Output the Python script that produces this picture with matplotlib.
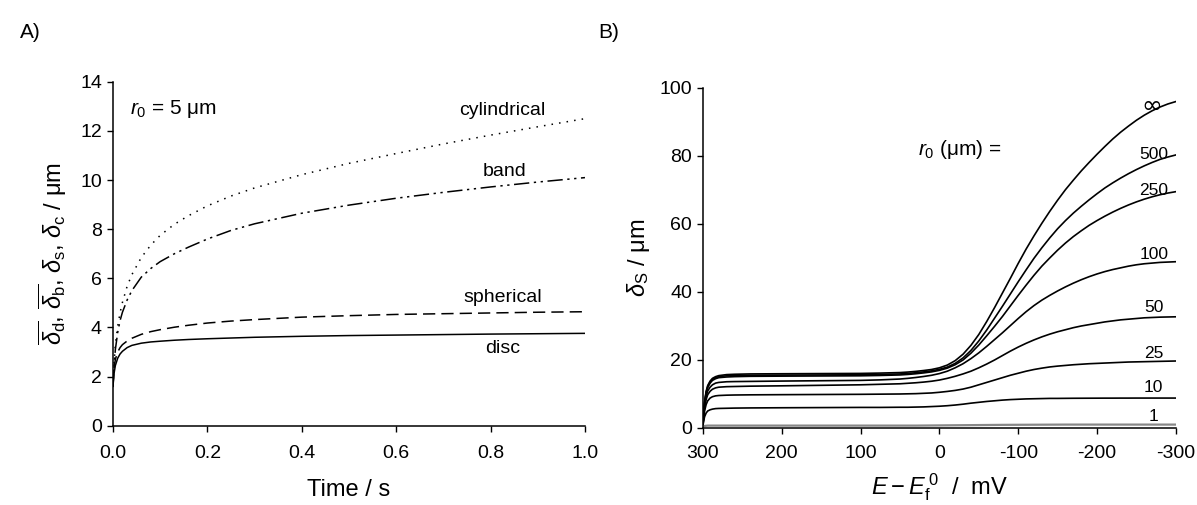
import matplotlib
matplotlib.use("Agg")
import matplotlib.pyplot as plt
from matplotlib.ticker import FuncFormatter

plt.rcParams.update({
    "font.family": ["Liberation Sans", "DejaVu Sans"],
    "mathtext.fontset": "custom",
    "mathtext.rm": "Liberation Sans",
    "mathtext.it": "Liberation Sans:italic",
    "mathtext.bf": "Liberation Sans:bold",
    "axes.unicode_minus": False,
    "axes.spines.top": False,
    "axes.spines.right": False,
    "axes.linewidth": 1.1,
    "xtick.direction": "out",
    "ytick.direction": "out",
    "xtick.major.size": 4,
    "ytick.major.size": 4,
    "xtick.major.width": 1.0,
    "ytick.major.width": 1.0,
    "xtick.labelsize": 14,
    "ytick.labelsize": 14,
})

# ---------------------------------------------------------------------------
# Panel A data: diffusion layer thickness vs time (r0 = 5 um)
# ---------------------------------------------------------------------------
time_s = [0, 0.002, 0.005, 0.01, 0.015, 0.02, 0.03, 0.04, 0.06, 0.08, 0.1,
          0.13, 0.16, 0.2, 0.25, 0.3, 0.4, 0.5, 0.6, 0.7, 0.8, 0.9, 1.0]
disc = [1.6, 2.1, 2.45, 2.75, 2.92, 3.03, 3.18, 3.27, 3.36, 3.41, 3.44,
        3.48, 3.51, 3.54, 3.57, 3.60, 3.64, 3.67, 3.69, 3.71, 3.73, 3.745, 3.76]
spherical = [1.6, 2.3, 2.7, 3.0, 3.18, 3.3, 3.45, 3.56, 3.72, 3.83, 3.91,
             4.01, 4.09, 4.18, 4.26, 4.32, 4.42, 4.48, 4.53, 4.56, 4.59, 4.62, 4.64]
cylindrical = [1.6, 2.5, 3.3, 4.05, 4.6, 5.02, 5.68, 6.15, 6.85, 7.35, 7.75,
               8.2, 8.55, 8.95, 9.35, 9.68, 10.22, 10.68, 11.08, 11.47, 11.83, 12.17, 12.5]
band = [1.6, 2.4, 3.1, 3.8, 4.28, 4.62, 5.12, 5.5, 6.05, 6.4, 6.68,
        7.0, 7.27, 7.6, 7.95, 8.22, 8.65, 8.98, 9.26, 9.5, 9.72, 9.92, 10.1]

# ---------------------------------------------------------------------------
# Panel B data: delta_s vs E - Ef0 for several sphere radii
# ---------------------------------------------------------------------------
potential_mv = [300, 299, 298, 296, 294, 291, 288, 284, 280, 270, 260, 240, 200,
                150, 100, 75,
                50, 40, 30, 20, 10, 0, -10, -20, -30, -40, -50, -60, -70, -80,
                -90, -100, -110, -120, -130, -140, -150, -160, -170, -180, -190,
                -200, -210, -220, -230, -240, -250, -260, -270, -280, -290, -300]

r_inf = [1.5, 5.0, 7.8, 10.8, 12.5, 13.8, 14.6, 15.1, 15.4, 15.7, 15.8, 15.9, 15.95,
         16.0, 16.05, 16.15,
         16.3, 16.45, 16.65, 16.9, 17.2, 17.7, 18.5, 19.8, 21.7, 24.3, 27.5, 31.3,
         35.4, 39.7, 44.0, 48.4, 52.6, 56.5, 60.2, 63.7, 67.0, 70.1, 72.9, 75.6,
         78.1, 80.5, 82.8, 85.0, 87.0, 88.8, 90.5, 92.0, 93.3, 94.4, 95.3, 96.0]
r_500 = [1.4, 4.8, 7.5, 10.5, 12.2, 13.5, 14.3, 14.8, 15.1, 15.35, 15.45, 15.5, 15.55,
         15.6, 15.65, 15.75,
         15.9, 16.05, 16.25, 16.5, 16.8, 17.25, 17.9, 19.0, 20.6, 22.8, 25.6, 28.8,
         32.3, 35.8, 39.4, 43.0, 46.5, 49.9, 53.0, 55.9, 58.6, 61.0, 63.2, 65.2,
         67.1, 68.9, 70.6, 72.1, 73.5, 74.8, 76.0, 77.1, 78.1, 79.0, 79.7, 80.3]
r_250 = [1.3, 4.6, 7.2, 10.2, 11.9, 13.2, 14.0, 14.5, 14.8, 15.0, 15.1, 15.2, 15.25,
         15.3, 15.35, 15.45,
         15.6, 15.75, 15.95, 16.2, 16.5, 16.95, 17.6, 18.6, 20.0, 22.0, 24.4, 27.1,
         29.9, 32.8, 35.9, 39.0, 42.0, 44.9, 47.6, 50.0, 52.3, 54.4, 56.3, 58.0,
         59.6, 61.0, 62.3, 63.5, 64.6, 65.6, 66.5, 67.3, 68.0, 68.6, 69.1, 69.5]
r_100 = [1.2, 4.2, 6.6, 9.3, 10.9, 12.0, 12.7, 13.2, 13.4, 13.6, 13.65, 13.7, 13.8,
         13.9, 14.0, 14.15,
         14.4, 14.6, 14.85, 15.15, 15.5, 16.0, 16.7, 17.7, 18.9, 20.4, 22.1, 24.0,
         26.0, 28.0, 30.1, 32.2, 34.2, 36.0, 37.6, 39.0, 40.3, 41.5, 42.6, 43.6,
         44.5, 45.3, 46.0, 46.6, 47.1, 47.6, 48.0, 48.3, 48.5, 48.7, 48.8, 48.9]
r_50 = [1.1, 3.8, 6.0, 8.4, 9.8, 10.8, 11.4, 11.8, 12.0, 12.15, 12.2, 12.3, 12.4,
        12.55, 12.7, 12.85,
        13.0, 13.15, 13.3, 13.5, 13.75, 14.1, 14.6, 15.2, 15.9, 16.7, 17.7, 18.8,
        20.0, 21.3, 22.6, 23.8, 24.9, 25.9, 26.8, 27.6, 28.3, 28.9, 29.5, 30.0,
        30.4, 30.8, 31.2, 31.5, 31.8, 32.0, 32.2, 32.4, 32.5, 32.6, 32.65, 32.7]
r_25 = [1.0, 3.2, 5.0, 6.9, 8.0, 8.8, 9.2, 9.45, 9.55, 9.65, 9.7, 9.75, 9.8,
        9.85, 9.9, 9.95,
        10.0, 10.05, 10.1, 10.2, 10.3, 10.5, 10.75, 11.05, 11.45, 12.0, 12.7, 13.4,
        14.1, 14.8, 15.5, 16.1, 16.7, 17.2, 17.6, 17.95, 18.2, 18.4, 18.6, 18.75,
        18.9, 19.0, 19.1, 19.2, 19.3, 19.4, 19.45, 19.5, 19.55, 19.6, 19.65, 19.7]
r_10 = [0.8, 2.2, 3.3, 4.4, 5.0, 5.35, 5.55, 5.7, 5.75, 5.8, 5.85, 5.9, 5.95,
        6.0, 6.05, 6.05,
        6.1, 6.1, 6.15, 6.2, 6.3, 6.4, 6.55, 6.75, 7.0, 7.3, 7.55, 7.8,
        8.0, 8.2, 8.35, 8.45, 8.55, 8.6, 8.65, 8.7, 8.7, 8.72, 8.74, 8.75,
        8.76, 8.77, 8.78, 8.78, 8.79, 8.79, 8.8, 8.8, 8.8, 8.8, 8.8, 8.8]
r_1 = [0.3, 0.5, 0.6, 0.65, 0.7, 0.7, 0.7, 0.7, 0.7, 0.7, 0.7, 0.7, 0.7,
       0.7, 0.7, 0.7,
       0.7, 0.7, 0.7, 0.72, 0.74, 0.76, 0.78, 0.8, 0.82, 0.84, 0.86, 0.88,
       0.9, 0.92, 0.93, 0.94, 0.95, 0.96, 0.97, 0.98, 0.99, 1.0, 1.0, 1.0,
       1.0, 1.0, 1.0, 1.0, 1.0, 1.0, 1.0, 1.0, 1.0, 1.0, 1.0, 1.0]

radius_labels = ["\u221e", "500", "250", "100", "50", "25", "10", "1"]
radius_curves = [r_inf, r_500, r_250, r_100, r_50, r_25, r_10, r_1]
label_y = [94.8, 80.5, 69.7, 50.9, 35.3, 22.0, 11.8, 3.5]

fig = plt.figure(figsize=(11.97, 5.05), dpi=100)
ax_a = fig.add_axes([0.0944, 0.157, 0.3943, 0.681])
ax_b = fig.add_axes([0.5873, 0.1525, 0.395, 0.6733])

# ---- Panel A ---------------------------------------------------------------
lw = 1.1
ax_a.plot(time_s, disc, color="black", lw=lw)
ax_a.plot(time_s, spherical, color="black", lw=lw, dashes=(8, 4))
ax_a.plot(time_s, cylindrical, color="black", lw=lw, dashes=(1, 4))
ax_a.plot(time_s, band, color="black", lw=lw, dashes=(10, 3, 1.5, 3, 1.5, 3))

ax_a.set_xlim(0, 1.0)
ax_a.set_ylim(0, 14)
ax_a.set_xticks([0, 0.2, 0.4, 0.6, 0.8, 1.0])
ax_a.set_yticks(range(0, 15, 2))
ax_a.xaxis.set_major_formatter(FuncFormatter(lambda v, p: f"{v:.1f}"))
ax_a.tick_params(axis="x", pad=10)
ax_a.tick_params(axis="y", pad=4)
ax_a.set_xlabel("Time / s", fontsize=17, labelpad=12)
ax_a.set_ylabel(r"$\overline{\delta_{\rm d}}$, $\overline{\delta_{\rm b}}$, "
                r"$\delta_{\rm s}$, $\delta_{\rm c}$ / μm", fontsize=17, labelpad=8)

tfs = 14
ax_a.text(0.824, 12.85, "cylindrical", ha="center", va="center", fontsize=tfs)
ax_a.text(0.83, 10.33, "band", ha="center", va="center", fontsize=tfs)
ax_a.text(0.826, 5.23, "spherical", ha="center", va="center", fontsize=tfs)
ax_a.text(0.826, 3.16, "disc", ha="center", va="center", fontsize=tfs)
ax_a.text(0.035, 12.9, r"$r_0$ = 5 μm", ha="left", va="center", fontsize=15)

# ---- Panel B ---------------------------------------------------------------
for lab, vals, ly in zip(radius_labels, radius_curves, label_y):
    if lab == "1":
        ax_b.plot(potential_mv, vals, color="#888888", lw=1.6)
    else:
        ax_b.plot(potential_mv, vals, color="black", lw=1.2)
    if lab == "\u221e":
        ax_b.text(-270, ly, lab, ha="center", va="center", fontsize=18,
                  family="DejaVu Sans")
    else:
        ax_b.text(-272, ly, lab, ha="center", va="center", fontsize=12.5)

ax_b.set_xlim(300, -300)
ax_b.set_ylim(0, 100)
ax_b.set_xticks([300, 200, 100, 0, -100, -200, -300])
ax_b.set_yticks(range(0, 101, 20))
ax_b.xaxis.set_major_formatter(FuncFormatter(lambda v, p: f"{int(v)}"))
ax_b.tick_params(axis="x", pad=8)
ax_b.tick_params(axis="y", pad=4)
ax_b.set_xlabel(r"$E - E_{\rm f}^{\,0}$  /  mV", fontsize=17, labelpad=7)
ax_b.set_ylabel(r"$\delta_{\rm S}$ / μm", fontsize=17, labelpad=5)
ax_b.text(27, 81.8, r"$r_0$ (μm) =", ha="left", va="center", fontsize=15)

fig.text(0.017, 0.935, "A)", fontsize=15, ha="left", va="center")
fig.text(0.500, 0.935, "B)", fontsize=15, ha="left", va="center")

fig.savefig("out.png", dpi=100)
